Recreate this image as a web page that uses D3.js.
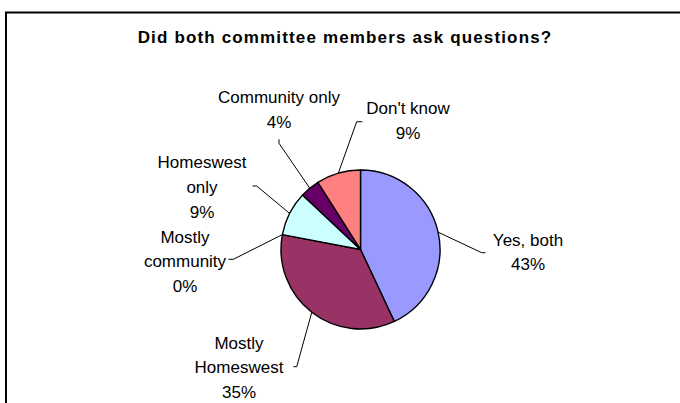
<!DOCTYPE html>
<html>
<head>
<meta charset="utf-8">
<script src="https://cdn.jsdelivr.net/npm/d3@7"></script>
<style>
  html, body { margin: 0; padding: 0; background: #fff; }
  svg { display: block; }
  text { font-family: "Liberation Sans", Arial, sans-serif; fill: #000; }
</style>
</head>
<body>
<svg id="chart" width="680" height="403"></svg>
<script>
// Survey answers and their shares (percent)
const categories = ["Yes, both", "Mostly Homeswest", "Mostly community", "Homeswest only", "Community only", "Don't know"];
const values = [43, 35, 0, 9, 4, 9];
// How each category name wraps in its label
const labelLines = [["Yes, both"], ["Mostly", "Homeswest"], ["Mostly", "community"], ["Homeswest", "only"], ["Community only"], ["Don't know"]];

// Slice fills
const palette = ["#9999FF", "#993366", "#FFFFCC", "#CCFFFF", "#660066", "#FF8080"];

// Label placement: text centre of the first line, and the leader line's elbow + end point
const labelLayout = [
  { x: 528, y: 239.5, elbow: [481.7, 252.7], end: [485.5, 252.7] },
  { x: 239, y: 342.5, elbow: [296.7, 366.7], end: [293.5, 366.7] },
  { x: 185, y: 236.5, elbow: [233.3, 259.3], end: [228.5, 259.3] },
  { x: 202, y: 162,   elbow: [256.7, 186.0], end: [252.5, 186.0] },
  { x: 279, y: 96.7,  elbow: [279.0, 143.3], end: [279.0, 139.3] },
  { x: 408, y: 108.3, elbow: [356.7, 121.7], end: [362.3, 121.7] }
];

const svg = d3.select("#chart");
const cx = 360.5, cy = 249.5, radius = 79.5;
const lineGap = 24.8;

// Chart frame
svg.append("rect")
  .attr("x", 6).attr("y", 12.5)
  .attr("width", 720).attr("height", 430)
  .attr("fill", "#fff").attr("stroke", "#000").attr("stroke-width", 2);

// Title
svg.append("text")
  .attr("x", 345).attr("y", 43.3)
  .attr("text-anchor", "middle")
  .style("font-size", "17px").style("font-weight", "bold")
  .style("letter-spacing", "1.15px")
  .text("Did both committee members ask questions?");

const total = d3.sum(values);
const rows = categories.map((c, i) => ({ category: c, value: values[i], lines: labelLines[i], color: palette[i], layout: labelLayout[i] }));

const pie = d3.pie().sort(null).value(d => d.value).startAngle(0).endAngle(2 * Math.PI);
const arcs = pie(rows);
const arc = d3.arc().innerRadius(0).outerRadius(radius);
const edge = d3.arc().innerRadius(radius).outerRadius(radius);

const g = svg.append("g").attr("transform", `translate(${cx},${cy})`);

g.selectAll("path.slice")
  .data(arcs.filter(a => a.value > 0))
  .join("path")
  .attr("class", "slice")
  .attr("d", arc)
  .attr("fill", a => a.data.color)
  .attr("stroke", "#000")
  .attr("stroke-width", 1.4)
  .attr("stroke-linejoin", "round");

// Leader lines from slice edge to the label
const line = d3.line();
svg.selectAll("path.leader")
  .data(arcs)
  .join("path")
  .attr("class", "leader")
  .attr("d", a => {
    const [ex, ey] = edge.centroid(a);
    return line([[cx + ex, cy + ey], a.data.layout.elbow, a.data.layout.end]);
  })
  .attr("fill", "none")
  .attr("stroke", "#000")
  .attr("stroke-width", 1);

// Labels: category name lines followed by the percentage
const labels = svg.selectAll("text.label")
  .data(arcs)
  .join("text")
  .attr("class", "label")
  .attr("text-anchor", "middle")
  .style("font-size", "17px");

labels.each(function (a) {
  const t = d3.select(this);
  const pct = Math.round(a.value / total * 100) + "%";
  const lines = a.data.lines.concat([pct]);
  lines.forEach((s, k) => {
    t.append("tspan")
      .attr("x", a.data.layout.x)
      .attr("y", a.data.layout.y + k * lineGap)
      .attr("dy", "0.36em")
      .text(s);
  });
});
</script>
</body>
</html>
